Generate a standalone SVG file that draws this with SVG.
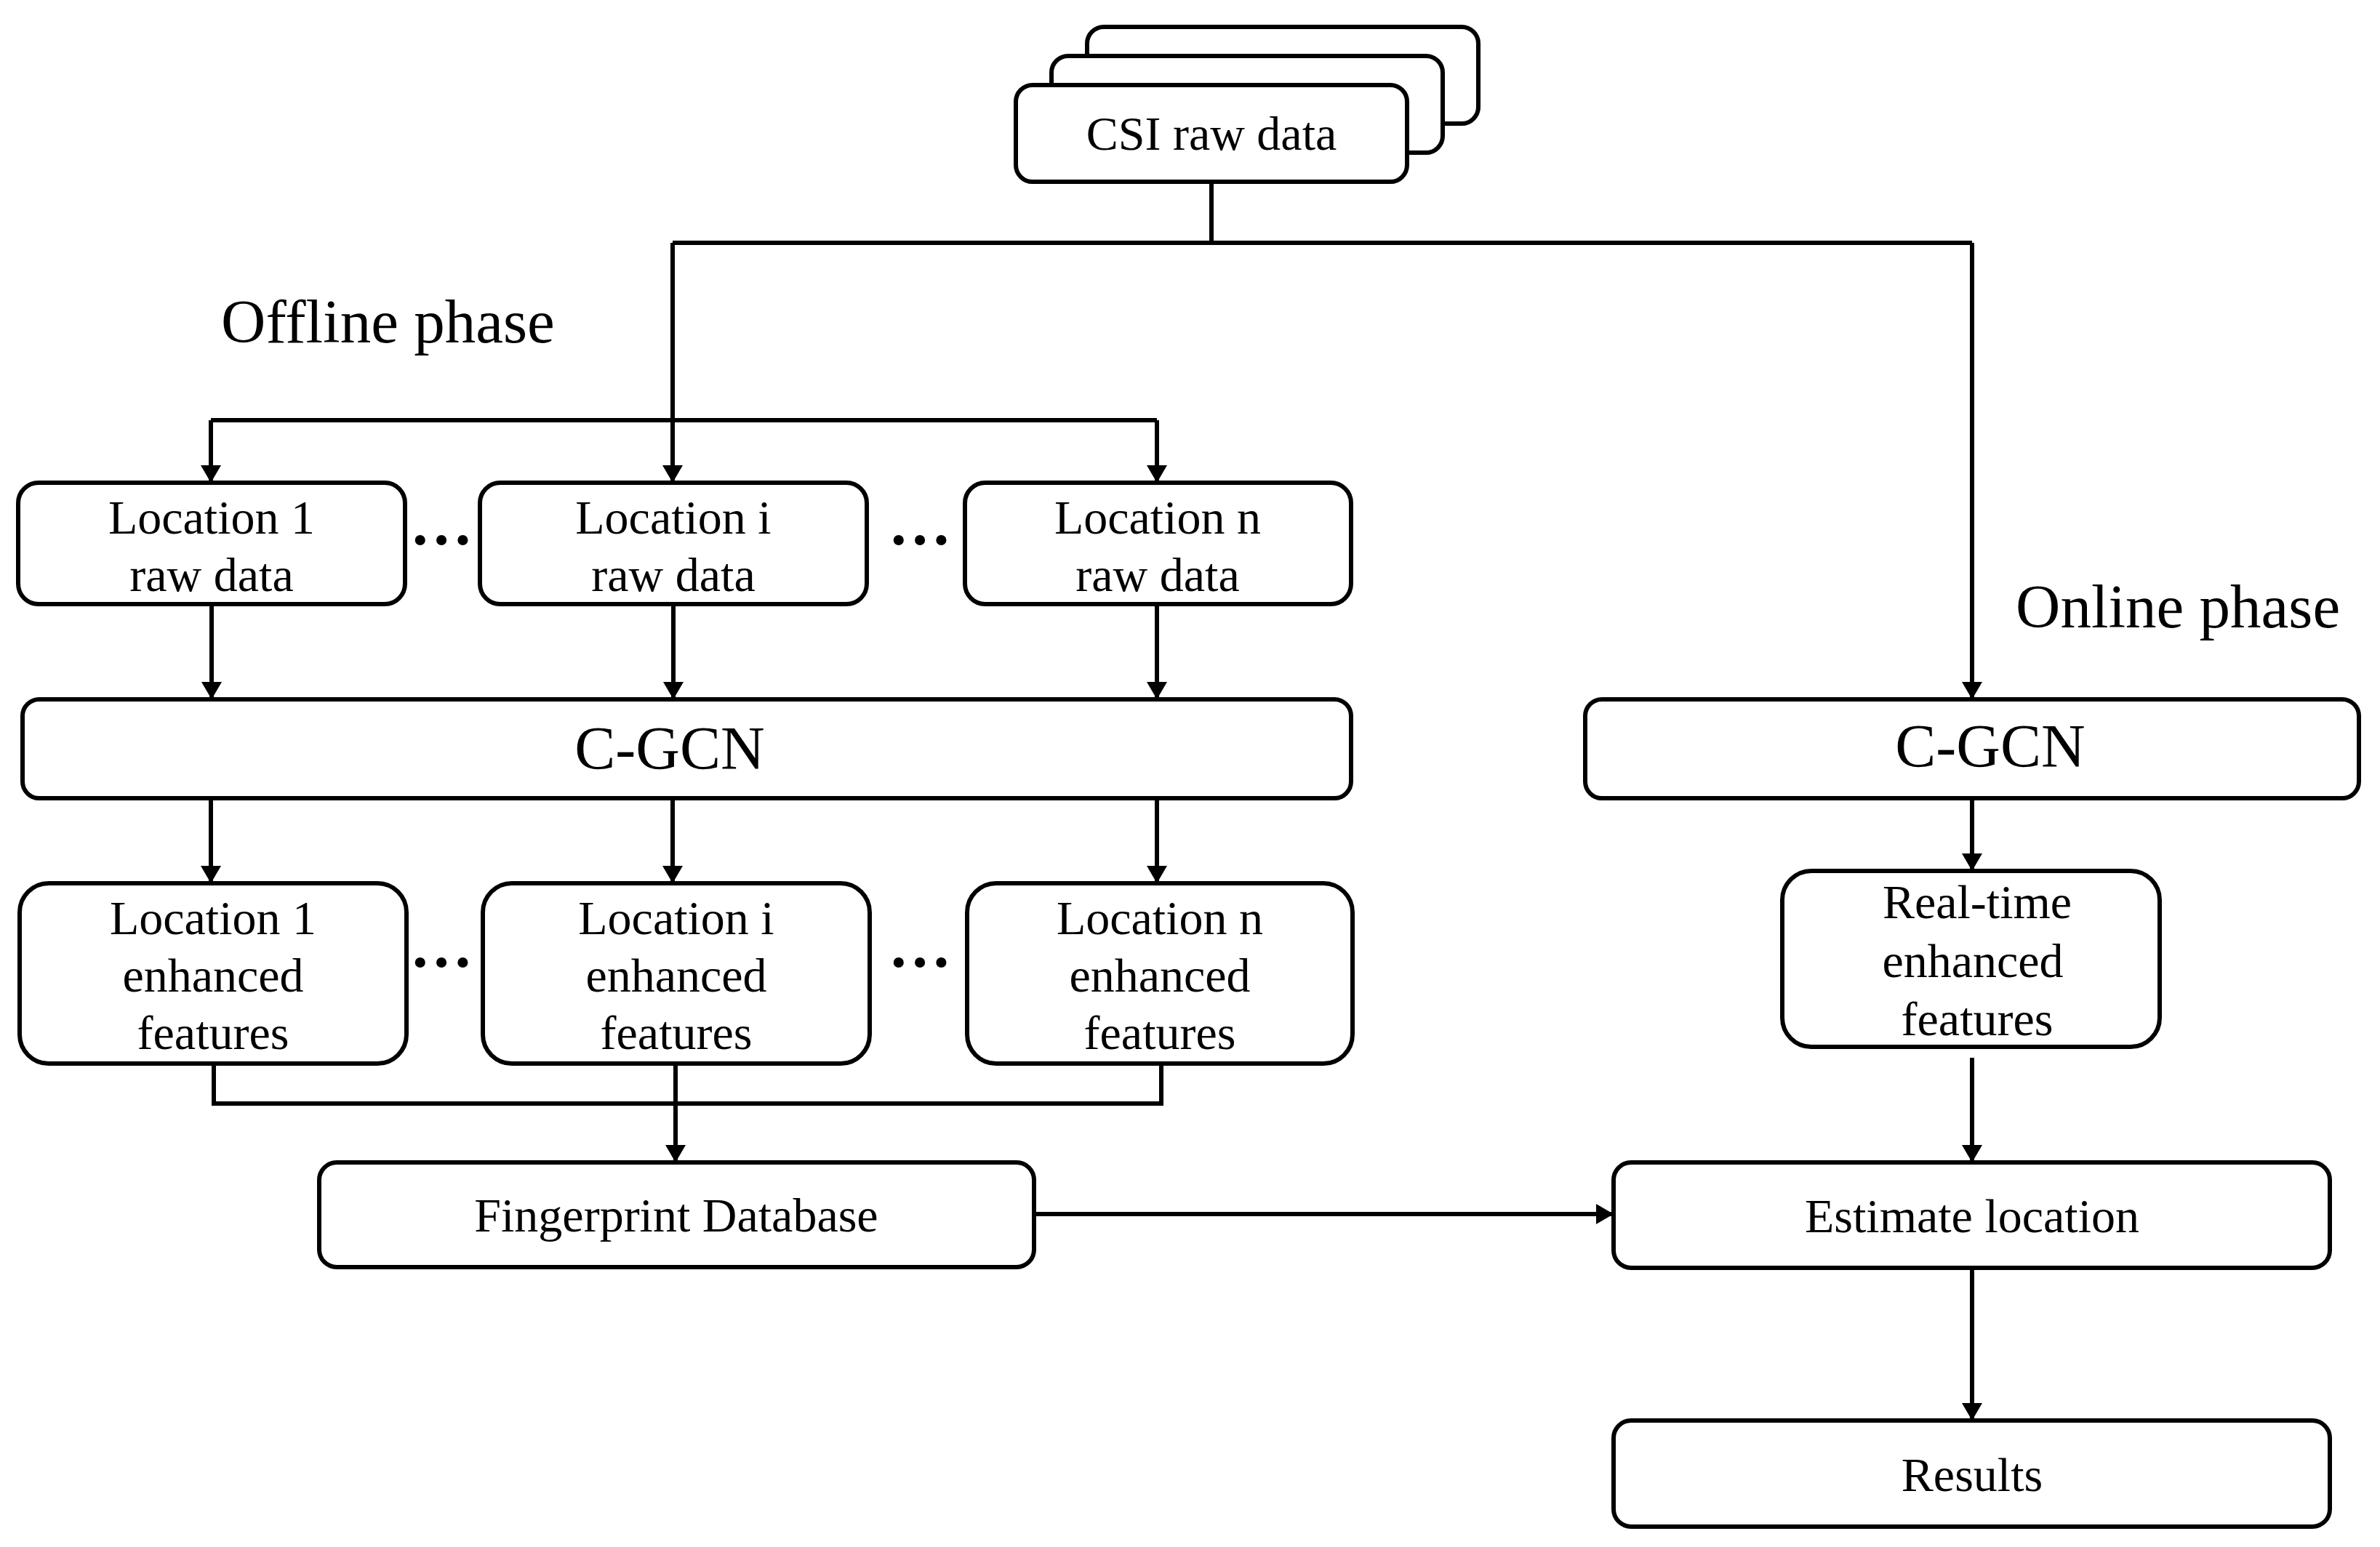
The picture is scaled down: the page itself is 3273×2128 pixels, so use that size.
<svg xmlns="http://www.w3.org/2000/svg" width="3273" height="2128" viewBox="0 0 3273 2128">
<style>
.box{fill:#fff;stroke:#000;stroke-width:6}
.t{font-family:"Liberation Serif","Times New Roman",serif;font-size:66px;fill:#000;text-anchor:middle}
.h{font-family:"Liberation Serif","Times New Roman",serif;font-size:85px;fill:#000}
.big{font-family:"Liberation Serif","Times New Roman",serif;font-size:84px;fill:#000;text-anchor:middle}
.dots{font-family:"Liberation Serif","Times New Roman",serif;font-size:87px;font-weight:bold;fill:#000;text-anchor:middle}
.c{fill:none;stroke:#000;stroke-width:6}
.a{marker-end:url(#arr)}
</style>
<defs>
<marker id="arr" markerUnits="userSpaceOnUse" viewBox="0 0 24 28" refX="24" refY="14" markerWidth="24" markerHeight="28" orient="auto">
<path d="M0,0 L24,14 L0,28 z" fill="#000"/>
</marker>
</defs>
<rect width="3273" height="2128" fill="#fff"/>

<g id="csi">
<rect class="box" x="1495" y="37" width="538" height="133" rx="23"/>
<rect class="box" x="1446" y="77" width="538" height="133" rx="23"/>
<rect class="box" x="1397" y="117" width="538" height="133" rx="23"/>
<text class="t" x="1666" y="206">CSI raw data</text>
</g>

<g id="offline-label"><text class="h" x="304" y="471">Offline phase</text></g>
<g id="online-label"><text class="h" x="2772" y="863">Online phase</text></g>

<g id="loc1-raw">
<rect class="box" x="25" y="664" width="532" height="167" rx="28"/>
<text class="t" x="291" y="734">Location 1</text>
<text class="t" x="291" y="813">raw data</text>
</g>
<g id="dots-raw-1"><text class="dots" x="607" y="749">…</text></g>
<g id="loci-raw">
<rect class="box" x="660" y="664" width="532" height="167" rx="28"/>
<text class="t" x="926" y="734">Location i</text>
<text class="t" x="926" y="813">raw data</text>
</g>
<g id="dots-raw-2"><text class="dots" x="1265" y="749">…</text></g>
<g id="locn-raw">
<rect class="box" x="1327" y="664" width="531" height="167" rx="28"/>
<text class="t" x="1592" y="734">Location n</text>
<text class="t" x="1592" y="813">raw data</text>
</g>

<g id="cgcn-offline">
<rect class="box" x="31" y="962" width="1827" height="136" rx="23"/>
<text class="big" x="921" y="1058">C-GCN</text>
</g>

<g id="loc1-enh">
<rect class="box" x="27" y="1215" width="532" height="248" rx="40"/>
<text class="t" x="293" y="1285">Location 1</text>
<text class="t" x="293" y="1364">enhanced</text>
<text class="t" x="293" y="1443">features</text>
</g>
<g id="dots-enh-1"><text class="dots" x="607" y="1330">…</text></g>
<g id="loci-enh">
<rect class="box" x="664" y="1215" width="532" height="248" rx="40"/>
<text class="t" x="930" y="1285">Location i</text>
<text class="t" x="930" y="1364">enhanced</text>
<text class="t" x="930" y="1443">features</text>
</g>
<g id="dots-enh-2"><text class="dots" x="1265" y="1330">…</text></g>
<g id="locn-enh">
<rect class="box" x="1330" y="1215" width="530" height="248" rx="40"/>
<text class="t" x="1595" y="1285">Location n</text>
<text class="t" x="1595" y="1364">enhanced</text>
<text class="t" x="1595" y="1443">features</text>
</g>

<g id="fingerprint">
<rect class="box" x="439" y="1599" width="983" height="144" rx="24"/>
<text class="t" x="930" y="1694">Fingerprint Database</text>
</g>

<g id="cgcn-online">
<rect class="box" x="2180" y="962" width="1064" height="136" rx="23"/>
<text class="big" x="2737" y="1055">C-GCN</text>
</g>

<g id="realtime">
<rect class="box" x="2451" y="1198" width="519" height="242" rx="40"/>
<text class="t" x="2719" y="1263">Real-time</text>
<text class="t" x="2713" y="1344">enhanced</text>
<text class="t" x="2719" y="1424">features</text>
</g>

<g id="estimate">
<rect class="box" x="2219" y="1599" width="985" height="145" rx="24"/>
<text class="t" x="2712" y="1695">Estimate location</text>
</g>

<g id="results">
<rect class="box" x="2219" y="1954" width="985" height="146" rx="24"/>
<text class="t" x="2712" y="2051">Results</text>
</g>

<g id="connectors">
<path class="c" d="M1666,250 V334"/>
<path class="c" d="M925,334 H2712"/>
<path class="c a" d="M925,334 V664"/>
<path class="c" d="M290,578 H1591"/>
<path class="c a" d="M290,578 V664"/>
<path class="c a" d="M1591,578 V664"/>
<path class="c a" d="M2712,334 V962"/>
<path class="c a" d="M291,831 V962"/>
<path class="c a" d="M926,831 V962"/>
<path class="c a" d="M1591,831 V962"/>
<path class="c a" d="M290,1098 V1215"/>
<path class="c a" d="M925,1098 V1215"/>
<path class="c a" d="M1591,1098 V1215"/>
<path class="c" d="M294,1463 V1518 H1597 V1463"/>
<path class="c a" d="M929,1463 V1599"/>
<path class="c a" d="M2712,1098 V1198"/>
<path class="c a" d="M2712,1455 V1599"/>
<path class="c a" d="M2712,1744 V1954"/>
<path class="c a" d="M1422,1670 H2219"/>
</g>
</svg>
